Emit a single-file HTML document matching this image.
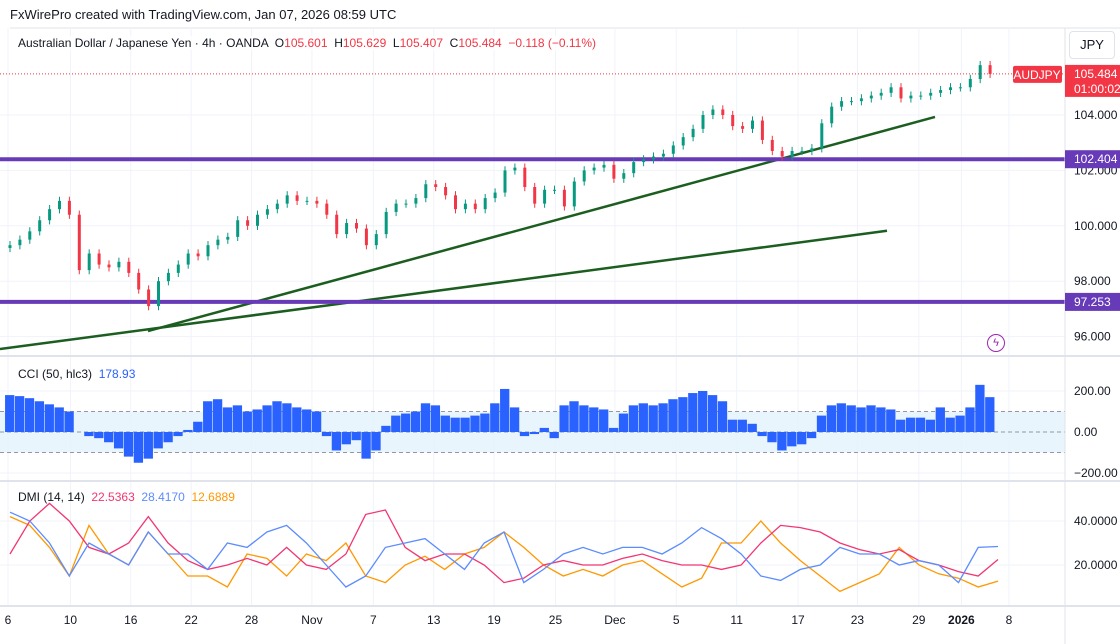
<!DOCTYPE html>
<html><head><meta charset="utf-8"><style>
body{margin:0;background:#fff;font-family:"Liberation Sans",sans-serif;}
svg{display:block}
text{font-family:"Liberation Sans",sans-serif;}
</style></head><body>
<svg id="c" width="1120" height="644" viewBox="0 0 1120 644">
<rect x="0" y="0" width="1120" height="644" fill="#fff"/>
<text x="10" y="19" font-size="13" fill="#131722">FxWirePro created with TradingView.com, Jan 07, 2026 08:59 UTC</text>
<line x1="10" y1="28" x2="1120" y2="28" stroke="#e0e3eb"/>
<g id="grid"></g>
<g id="price"></g>
<g id="cci"></g>
<g id="dmi"></g>
<g id="axes"></g>
</svg>
<script>
const closes=[99.3,99.5,99.8,100.2,100.6,100.9,100.4,98.4,99.0,98.6,98.5,98.7,98.3,97.7,97.1,98.0,98.3,98.6,99.0,98.9,99.3,99.5,99.6,100.2,100.0,100.4,100.6,100.8,101.1,100.9,100.9,100.8,100.4,99.7,100.1,99.9,99.3,99.7,100.5,100.8,100.8,101.0,101.5,101.4,101.1,100.6,100.8,100.6,101.0,101.2,102.0,102.1,101.4,100.8,101.3,101.3,100.7,101.6,102.0,102.1,102.2,101.7,101.9,102.3,102.4,102.5,102.6,102.9,103.2,103.5,104.0,104.2,104.0,103.6,103.5,103.8,103.1,102.7,102.5,102.7,102.7,102.8,103.7,104.3,104.5,104.5,104.6,104.7,104.8,105.0,104.6,104.7,104.7,104.8,104.9,105.0,105.0,105.3,105.8,105.484];
const cciValues=[180,175,165,150,135,120,100,0,-20,-30,-50,-80,-120,-150,-130,-80,-50,-20,10,50,150,160,120,130,100,110,130,150,140,120,110,100,-20,-90,-60,-40,-130,-90,30,80,90,100,140,130,80,70,70,80,90,140,210,120,-20,-10,20,-30,130,150,130,120,110,20,90,130,140,130,140,160,170,190,200,180,150,60,60,40,-20,-50,-90,-70,-60,-30,80,130,140,130,120,130,120,110,60,70,70,60,120,70,80,120,230,170];
const diPlus=[44,40,30,15,30,25,20,35,25,25,18,30,28,35,38,30,20,10,15,28,30,32,25,18,30,35,12,18,25,28,25,28,28,25,30,37,32,25,15,13,18,20,28,25,25,20,22,20,12,28,28.4];
const adx=[25,40,48,40,28,25,30,42,30,22,18,20,23,20,28,20,18,25,43,45,28,22,25,25,20,12,14,20,22,20,20,23,25,22,20,20,18,20,30,38,37,35,30,27,25,27,22,20,17,15,22.5];
const diMinus=[42,38,28,15,38,25,20,35,25,15,15,10,25,23,15,25,22,30,15,12,20,24,18,25,28,35,28,20,15,18,15,20,22,16,10,14,30,30,40,30,22,15,8,12,16,28,20,16,14,10,12.7];
const priceTicks=[96,98,100,102,104];
const cciTicks=[200,0,-200];
const dmiTicks=[40,20];
const xLabels=["6","10","16","22","28","Nov","7","13","19","25","Dec","5","11","17","23","29","2026","8"];
const xLabelIdx=[-0.2,6.1,12.2,18.3,24.4,30.5,36.7,42.8,48.9,55.1,61.1,67.3,73.4,79.6,85.6,91.8,96.1,100.9];
const levels=[102.404,97.253];

const NS="http://www.w3.org/2000/svg";
function el(tag,attrs,parent){const e=document.createElementNS(NS,tag);for(const k in attrs)e.setAttribute(k,attrs[k]);parent.appendChild(e);return e;}
const X0=10,DX=9.9,RIGHT=1065;
const xAt=i=>X0+i*DX;
const yP=p=>115+(104-p)*27.7;
const yC=v=>432-v*0.205;
const yD=v=>565-(v-20)*2.2;
const grid=document.getElementById('grid'),price=document.getElementById('price'),cci=document.getElementById('cci'),dmi=document.getElementById('dmi'),axes=document.getElementById('axes');

xLabels.forEach((t,k)=>{const x=xAt(xLabelIdx[k]);
 const g=el('line',{x1:x,y1:28,x2:x,y2:606,stroke:'#f0f3fa'},grid);
 
 
 const tx=el('text',{x:x,y:624,'font-size':12,fill:'#131722','text-anchor':'middle','font-weight':t==='2026'?'bold':'normal'},axes);tx.textContent=t;
 
 
});
priceTicks.forEach(p=>{const y=yP(p);
 const g=el('line',{x1:0,y1:y,x2:RIGHT,y2:y,stroke:'#f0f3fa'},grid);
 
 
 const t=el('text',{x:1074,y:y+4,'font-size':12,fill:'#131722'},axes);t.textContent=p.toFixed(3);
 
 
});
const band=el('rect',{x:0,y:yC(100),width:RIGHT,height:yC(-100)-yC(100),fill:'#e3f2fd',opacity:0.8},cci);


[100,0,-100].forEach(v=>{const l=el('line',{x1:0,y1:yC(v),x2:RIGHT,y2:yC(v),stroke:'#9598a1','stroke-dasharray':'4 3'},cci);
 
 });
cciTicks.forEach(v=>{const y=yC(v);
 const g=el('line',{x1:0,y1:y,x2:RIGHT,y2:y,stroke:'#f0f3fa'},grid);
 
 
 const t=el('text',{x:1074,y:y+4,'font-size':12,fill:'#131722'},axes);t.textContent=(v<0?'\u2212'+Math.abs(v).toFixed(2):v.toFixed(2));
 
 
});
dmiTicks.forEach(v=>{const y=yD(v);
 const g=el('line',{x1:0,y1:y,x2:RIGHT,y2:y,stroke:'#f0f3fa'},grid);
 
 
 const t=el('text',{x:1074,y:y+4,'font-size':12,fill:'#131722'},axes);t.textContent=v.toFixed(4);
 
 
});
[[356],[481],[606]].forEach(([y])=>{const l=el('line',{x1:0,y1:y,x2:1120,y2:y,stroke:'#e0e3eb','stroke-width':2},axes);
 
 });
const ra=el('line',{x1:RIGHT,y1:28,x2:RIGHT,y2:644,stroke:'#e0e3eb'},axes);



const tl1=el('line',{x1:0,y1:yP(95.55),x2:887,y2:yP(99.82),stroke:'#1b5e20','stroke-width':2.5},price);


const tl2=el('line',{x1:148,y1:yP(96.2),x2:935,y2:yP(103.93),stroke:'#1b5e20','stroke-width':2.5},price);


levels.forEach(p=>{const y=yP(p);
 const l=el('line',{x1:0,y1:y,x2:RIGHT,y2:y,stroke:'#673ab7','stroke-width':4},price);
 
 
 const r=el('rect',{x:RIGHT,y:y-9,width:55,height:18,fill:'#673ab7'},axes);
 
 
 const t=el('text',{x:1074,y:y+4,'font-size':12,fill:'#fff'},axes);t.textContent=p.toFixed(3);
 
 
});
closes.forEach((c,i)=>{const o=i?closes[i-1]:c-0.1;const up=c>=o;const col=up?'#089981':'#f23645';const x=xAt(i);
 const hi=Math.max(o,c)+0.15,lo=Math.min(o,c)-0.15;
 const w=el('line',{x1:x,y1:yP(hi),x2:x,y2:yP(lo),stroke:col,'stroke-width':1},price);
 
 
 const b=el('rect',{x:x-1.5,y:yP(Math.max(o,c)),width:3,height:Math.max(1,Math.abs(yP(o)-yP(c))),fill:col},price);
 
 
});
const lp=yP(closes[closes.length-1]);
const ll=el('line',{x1:0,y1:lp,x2:RIGHT,y2:lp,stroke:'#f23645','stroke-dasharray':'1 2'},price);


const sb=el('rect',{x:1013,y:lp-8,width:49,height:17,fill:'#f23645',rx:2},axes);


const st=el('text',{x:1037,y:lp+5,'font-size':12,fill:'#fff','text-anchor':'middle'},axes);st.textContent='AUDJPY';


const pb=el('rect',{x:RIGHT,y:lp-9,width:55,height:32,fill:'#f23645'},axes);


const pt=el('text',{x:1074,y:lp+4,'font-size':12,fill:'#fff'},axes);pt.textContent=closes[closes.length-1].toFixed(3);


const ct=el('text',{x:1074,y:lp+19,'font-size':12,fill:'#fff'},axes);ct.textContent='01:00:02';


cciValues.forEach((v,i)=>{const x=xAt(i)-DX/2;const y0=yC(0),y1=yC(v);
 const r=el('rect',{x:x,y:Math.min(y0,y1),width:DX-0.6,height:Math.abs(y1-y0),fill:'#2962ff'},cci);
 
 
});
function line(arr,col,name){const n=arr.length;const step=988/(n-1);
 const d=arr.map((v,i)=>(i?'L':'M')+(X0+i*step).toFixed(1)+','+yD(v).toFixed(1)).join(' ');
 const p=el('path',{d:d,fill:'none',stroke:col,'stroke-width':1.3},dmi);
 
 }
line(diMinus,'#ff9800','dmi-minus-line');
line(adx,'#f23672','dmi-adx-line');
line(diPlus,'#5b8cff','dmi-plus-line');
</script>
<div style="position:absolute;left:18px;top:36px;font-size:12px;color:#131722;white-space:nowrap;background:rgba(255,255,255,0.85)">Australian Dollar / Japanese Yen · 4h · OANDA &nbsp;O<span style="color:#f23645">105.601</span> &nbsp;H<span style="color:#f23645">105.629</span> &nbsp;L<span style="color:#f23645">105.407</span> &nbsp;C<span style="color:#f23645">105.484</span> &nbsp;<span style="color:#f23645">−0.118 (−0.11%)</span></div>
<div style="position:absolute;left:18px;top:367px;font-size:12px;color:#131722">CCI (50, hlc3) &nbsp;<span style="color:#2962ff">178.93</span></div>
<div style="position:absolute;left:18px;top:490px;font-size:12px;color:#131722">DMI (14, 14) &nbsp;<span style="color:#f23672">22.5363</span> &nbsp;<span style="color:#5b8cff">28.4170</span> &nbsp;<span style="color:#ff9800">12.6889</span></div>
<div style="position:absolute;left:1069px;top:31px;width:44px;height:26px;border:1px solid #e0e3eb;border-radius:4px;background:#fff;font-size:13px;color:#131722;line-height:26px;text-align:center">JPY</div>
<div style="position:absolute;left:987px;top:334px;width:16px;height:16px;border:1.5px solid #9c27b0;border-radius:50%;color:#9c27b0;font-size:11px;line-height:16px;text-align:center">ϟ</div>
</body></html>
